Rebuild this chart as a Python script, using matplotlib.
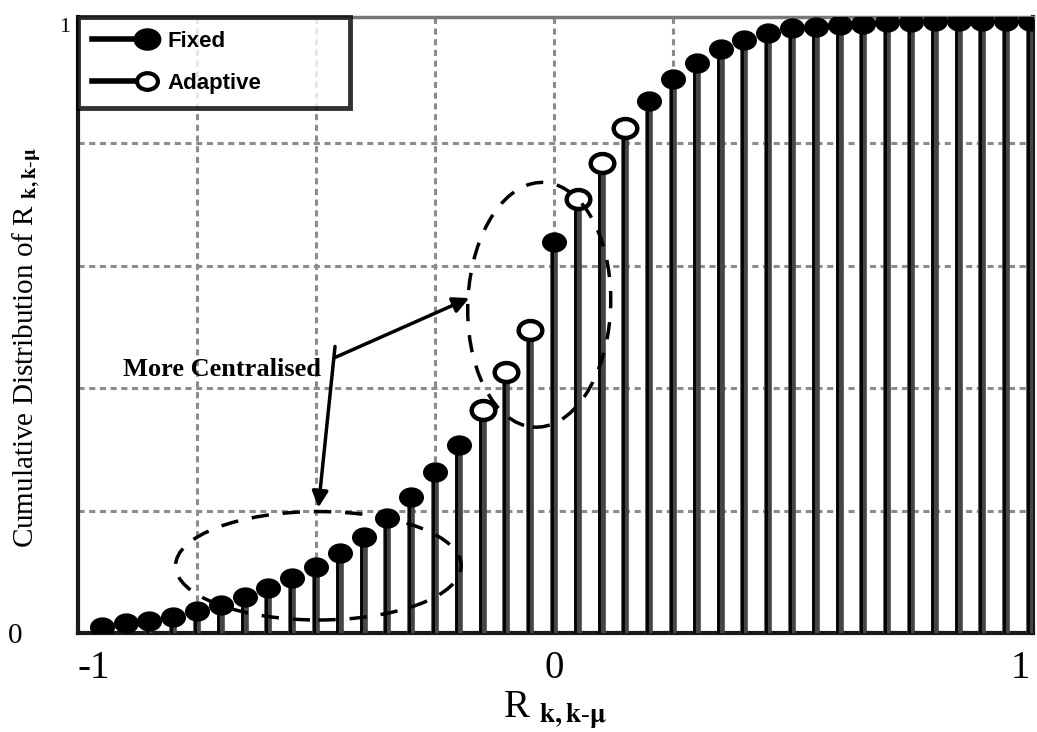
import matplotlib
matplotlib.use('Agg')
import matplotlib.pyplot as plt
from matplotlib.lines import Line2D
from matplotlib.patches import Ellipse
from matplotlib.path import Path
from matplotlib.transforms import Affine2D
from matplotlib.legend_handler import HandlerBase

# correlation bins R_{k,k-mu}
r_bins = [-0.95, -0.90, -0.85, -0.80, -0.75, -0.70, -0.65, -0.60, -0.55, -0.50,
          -0.45, -0.40, -0.35, -0.30, -0.25, -0.20, -0.15, -0.10, -0.05, 0.00,
          0.05, 0.10, 0.15, 0.20, 0.25, 0.30, 0.35, 0.40, 0.45, 0.50,
          0.55, 0.60, 0.65, 0.70, 0.75, 0.80, 0.85, 0.90, 0.95, 1.00]

# cumulative distribution, fixed scheme
fixed_cdf = [0.010, 0.016, 0.020, 0.026, 0.036, 0.046, 0.059, 0.074, 0.090, 0.108,
             0.131, 0.157, 0.188, 0.222, 0.263, 0.307, 0.364, 0.426, 0.495, 0.639,
             0.708, 0.768, 0.825, 0.868, 0.904, 0.931, 0.953, 0.969, 0.980, 0.987,
             0.989, 0.992, 0.995, 0.997, 0.998, 0.999, 1.000, 1.000, 1.000, 1.000]

# adaptive scheme, bins around zero
adaptive_r = [-0.15, -0.10, -0.05, 0.05, 0.10, 0.15]
adaptive_cdf = [0.364, 0.426, 0.495, 0.708, 0.768, 0.825]

x_ticks = [-1, 0, 1]
x_grid = [-0.75, -0.5, -0.25, 0.25, 0.5, 0.75]
y_grid = [0.2, 0.4, 0.6, 0.8]

plt.rcParams['mathtext.fontset'] = 'stix'
serif = 'Liberation Serif'

# slightly flattened circle for the stem heads
oval = Path(Affine2D().scale(1.0, 0.8).transform(Path.unit_circle().vertices),
            Path.unit_circle().codes)


class StemKey(HandlerBase):
    """Legend key: horizontal stem with the head on the right."""
    def create_artists(self, legend, orig_handle, xdescent, ydescent,
                       width, height, fontsize, trans):
        y = height / 2 - ydescent
        xe = width - xdescent - 8
        stem = Line2D([-xdescent, xe], [y, y], color='black', lw=4)
        head = Line2D([xe], [y], ls='none', marker=orig_handle.get_marker(),
                      ms=orig_handle.get_markersize(),
                      mfc=orig_handle.get_markerfacecolor(),
                      mec='black', mew=orig_handle.get_markeredgewidth())
        stem.set_transform(trans)
        head.set_transform(trans)
        return [stem, head]


fig = plt.figure(figsize=(10.37, 7.32), dpi=100)
ax = fig.add_axes([0.0752, 0.135, 0.9208, 0.842])

# stems: thick grey with a thin black line beside it
ax.vlines(r_bins, 0, fixed_cdf, color='#454545', lw=5.5, zorder=3)
ax.vlines([r - 0.005 for r in r_bins], 0, fixed_cdf, color='black', lw=2, zorder=3)

ax.plot(r_bins, fixed_cdf, ls='none', marker=oval, ms=17, mfc='black',
        mec='black', zorder=5)
ax.plot(adaptive_r, adaptive_cdf, ls='none', marker=oval, ms=17, mfc='white',
        mec='black', mew=3.2, zorder=6)

# highlighted regions
ax.add_patch(Ellipse((-0.495, 0.11), 0.60, 0.177, fill=False, ec='black',
                     lw=2.5, ls=(0, (5, 4)), zorder=7))
ax.add_patch(Ellipse((-0.031, 0.536), 0.30, 0.40, angle=-4, fill=False,
                     ec='black', lw=2.5, ls=(0, (5, 4)), zorder=7))

ax.text(-0.905, 0.43, 'More Centralised', family=serif, weight='bold',
        fontsize=19, va='center', zorder=8)
arrow = dict(arrowstyle='-|>', color='black', lw=2.5, mutation_scale=24,
             shrinkA=0, shrinkB=0)
ax.annotate('', xy=(-0.178, 0.547), xytext=(-0.46, 0.45), arrowprops=arrow, zorder=8)
ax.annotate('', xy=(-0.495, 0.205), xytext=(-0.46, 0.468), arrowprops=arrow, zorder=8)

ax.set_xlim(-1.0, 1.006)
ax.set_ylim(0, 1.006)

ax.set_xticks(x_ticks, ['-1', '0', '1'])
ax.set_xticks(x_grid, minor=True)
ax.set_yticks([0], ['0'])
ax.set_yticks(y_grid, minor=True)
ax.tick_params(which='both', length=0)
ax.tick_params(axis='x', pad=12, labelsize=28)
ax.tick_params(axis='y', pad=40, labelsize=21)
for lab in ax.get_xticklabels() + ax.get_yticklabels():
    lab.set_family(serif)
ax.get_xticklabels()[0].set_ha('left')
ax.get_xticklabels()[-1].set_ha('right')
ax.text(-0.008, 0.982, '1', transform=ax.transAxes, family=serif, fontsize=16,
        ha='right', va='center')

ax.grid(which='both', color='#8c8c8c', lw=2.2, ls=(0, (2, 1.5)), zorder=0)
ax.set_axisbelow(True)

for side in ('left', 'bottom', 'right'):
    ax.spines[side].set_linewidth(3)
    ax.spines[side].set_color('#1a1a1a')
ax.spines['top'].set_linewidth(2.5)
ax.spines['top'].set_color('#777777')

ax.set_xlabel(r'R $_{\mathbf{k,k\text{-}\mu}}$', family=serif, fontsize=28, labelpad=2)
ax.set_ylabel(r'Cumulative Distribution of R $_{\mathbf{k,k\text{-}\mu}}$',
              family=serif, fontsize=21)
ax.yaxis.set_label_coords(-0.037, 0.464)

keys = [Line2D([], [], marker=oval, ms=19, mfc='black', mew=1),
        Line2D([], [], marker=oval, ms=15, mfc='white', mew=3)]
leg = ax.legend(keys, ['Fixed', 'Adaptive'], handler_map={Line2D: StemKey()},
                loc='upper left', bbox_to_anchor=(0, 0, 0.285, 1), mode='expand',
                borderaxespad=0, fancybox=False, handlelength=3.0,
                handletextpad=0.4, labelspacing=0.95, borderpad=0.62,
                prop={'family': 'Liberation Sans', 'weight': 'bold', 'size': 16})
leg.get_frame().set_linewidth(3.5)
leg.get_frame().set_edgecolor('black')
leg.set_zorder(10)

fig.savefig('out.png', dpi=100)
